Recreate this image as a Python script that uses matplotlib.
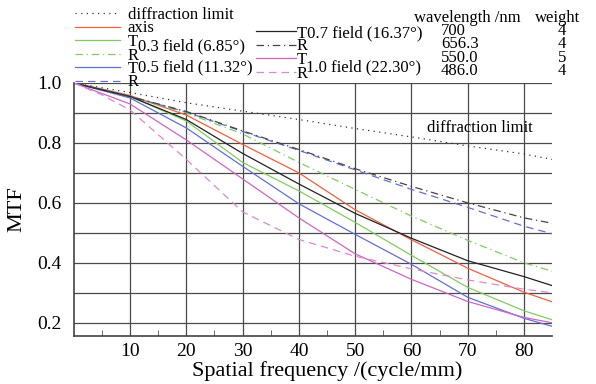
import numpy as np
import matplotlib.pyplot as plt

plt.rcParams['font.family'] = ['Liberation Serif', 'DejaVu Serif']

# spatial frequency (cycle/mm)
freq = [0, 5, 10, 20, 30, 40, 50, 60, 70, 80, 85]

# MTF values
diffraction = [1.0, 0.984, 0.968, 0.934, 0.906, 0.878, 0.848, 0.820, 0.790, 0.763, 0.745]
axis_mtf = [1.0, 0.980, 0.958, 0.893, 0.795, 0.700, 0.577, 0.477, 0.382, 0.302, 0.270]
t03 = [1.0, 0.977, 0.955, 0.873, 0.735, 0.640, 0.535, 0.425, 0.318, 0.240, 0.210]
r03 = [1.0, 0.978, 0.955, 0.900, 0.830, 0.735, 0.645, 0.556, 0.475, 0.400, 0.372]
t05 = [1.0, 0.975, 0.950, 0.850, 0.722, 0.597, 0.495, 0.395, 0.285, 0.215, 0.188]
r05 = [1.0, 0.978, 0.955, 0.903, 0.838, 0.775, 0.710, 0.645, 0.585, 0.522, 0.497]
t07 = [1.0, 0.977, 0.955, 0.878, 0.765, 0.663, 0.565, 0.482, 0.407, 0.354, 0.324]
r07 = [1.0, 0.978, 0.955, 0.905, 0.840, 0.778, 0.714, 0.655, 0.600, 0.550, 0.532]
t10 = [1.0, 0.965, 0.930, 0.810, 0.680, 0.550, 0.430, 0.345, 0.271, 0.218, 0.200]
r10 = [1.0, 0.960, 0.910, 0.745, 0.570, 0.478, 0.422, 0.380, 0.343, 0.312, 0.300]

wavelengths = ['700', '656.3', '550.0', '486.0']
weights = ['4', '4', '5', '4']

fig = plt.figure(figsize=(5.96, 3.84), dpi=100)
ax = fig.add_axes([0.1237, 0.125, 0.8028, 0.659])

lw = 0.9
h_dif, = ax.plot(freq, diffraction, color='#333333', ls=(0, (1, 3.5)), lw=lw)
h_ax, = ax.plot(freq, axis_mtf, color='#f0603c', lw=lw)
h_t03, = ax.plot(freq, t03, color='#80cc60', lw=lw)
h_r03, = ax.plot(freq, r03, color='#80cc60', ls=(0, (6, 3, 1, 3)), lw=lw)
h_t05, = ax.plot(freq, t05, color='#6070d8', lw=lw)
h_r05, = ax.plot(freq, r05, color='#6070d8', ls=(0, (6, 4)), lw=lw)
h_t07, = ax.plot(freq, t07, color='#222222', lw=lw)
h_r07, = ax.plot(freq, r07, color='#444444', ls=(0, (6, 3, 1, 3)), lw=lw)
h_t10, = ax.plot(freq, t10, color='#cc66c4', lw=lw)
h_r10, = ax.plot(freq, r10, color='#dd88d0', ls=(0, (6, 4)), lw=lw)

ax.set_xlim(0, 85)
ax.set_ylim(0.156, 1.0)
ax.set_xticks(np.arange(10, 81, 10))
ax.set_xticks(np.arange(5, 85, 10), minor=True)
ax.set_yticks(np.arange(0.2, 1.01, 0.1))
ax.set_yticklabels(['0.2', '', '0.4', '', '0.6', '', '0.8', '', '1.0'])
ax.grid(True, color='#4a4a4a', lw=0.9)
ax.tick_params(axis='both', which='major', length=0, labelsize=14, pad=9)
ax.tick_params(axis='x', which='minor', direction='in', length=4, color='#555555')
ax.tick_params(axis='x', which='major', pad=5)
for s in ['top', 'right']:
    ax.spines[s].set_visible(False)
for s in ['left', 'bottom']:
    ax.spines[s].set_color('#444444')
    ax.spines[s].set_linewidth(1.2)

ax.set_xlabel('Spatial frequency /(cycle/mm)', fontsize=16, labelpad=1)
ax.xaxis.set_label_coords(0.529, -0.10)
ax.set_ylabel('MTF', fontsize=16)
ax.yaxis.set_label_coords(-0.10, 0.5)

ax.text(72.2, 0.85, 'diffraction limit', fontsize=12, ha='center', va='center')

leg_kw = dict(frameon=False, fontsize=12, borderpad=0, borderaxespad=0,
              labelspacing=-0.15, handletextpad=0.45, handlelength=2.7)
leg1 = fig.legend([h_dif, h_ax, h_t03, h_r03, h_t05, h_r05],
                  ['diffraction limit', 'axis', 'T', 'R', 'T', 'R'],
                  loc='upper left', bbox_to_anchor=(75 / 596, 1 - 7 / 384), **leg_kw)
leg2 = fig.legend([h_t07, h_r07, h_t10, h_r10],
                  ['T0.7 field (16.37°)', 'R', 'T', 'R'],
                  loc='upper left', bbox_to_anchor=(256 / 596, 1 - 25 / 384),
                  **dict(leg_kw, handlelength=2.4, handletextpad=0.05))

fig.text(138 / 596, 1 - 46 / 384, '0.3 field (6.85°)', fontsize=12, va='center')
fig.text(138 / 596, 1 - 67 / 384, '0.5 field (11.32°)', fontsize=12, va='center')
fig.text(306 / 596, 1 - 67 / 384, '1.0 field (22.30°)', fontsize=12, va='center')

fig.text(467 / 596, 1 - 18 / 384, 'wavelength /nm', fontsize=12, ha='center', va='center')
fig.text(558 / 596, 1 - 18 / 384, 'weight', fontsize=12, ha='center', va='center')
for i, (wl, wt) in enumerate(zip(wavelengths, weights)):
    y = 1 - (31 + 13.4 * i) / 384
    fig.text(441 / 596, y, wl, fontsize=12, ha='left', va='center')
    fig.text(562 / 596, y, wt, fontsize=12, ha='center', va='center')

fig.savefig('out.png', dpi=100)
